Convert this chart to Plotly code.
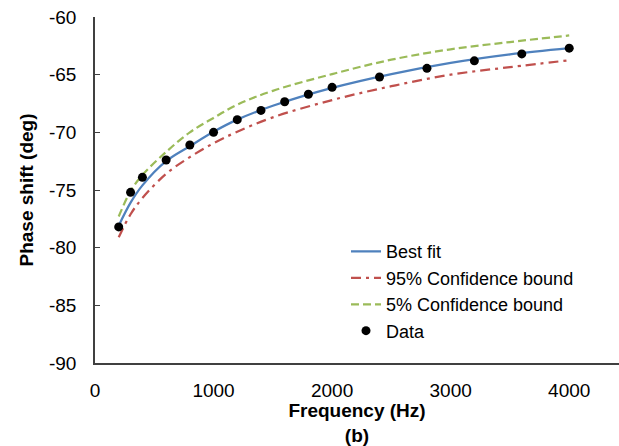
import plotly.graph_objects as go

# Measured data points
data_freq = [200, 300, 400, 600, 800, 1000, 1200, 1400, 1600, 1800, 2000, 2400, 2800, 3200, 3600, 4000]
data_phase = [-78.2, -75.2, -73.9, -72.4, -71.1, -70.0, -68.9, -68.1, -67.35, -66.7, -66.1, -65.2, -64.45, -63.8, -63.2, -62.7]

# Curves
curve_freq = [200, 300, 400, 600, 800, 1000, 1200, 1500, 2000, 2500, 3000, 3500, 4000]
best_fit = [-78.1, -76.1, -74.6, -72.5, -71.2, -69.95, -68.9, -67.7, -66.15, -64.95, -63.98, -63.24, -62.7]
bound_95 = [-79.1, -77.1, -75.7, -73.6, -72.15, -70.95, -69.95, -68.7, -67.2, -66.0, -65.0, -64.35, -63.75]
bound_5 = [-77.3, -75.1, -73.7, -71.7, -70.0, -68.75, -67.6, -66.4, -64.95, -63.7, -62.8, -62.17, -61.6]

x_ticks = [0, 1000, 2000, 3000, 4000]
y_ticks = [-90, -85, -80, -75, -70, -65, -60]

FONT = "Liberation Sans, Arial, sans-serif"
AX = "#404040"
FS = 19

fig = go.Figure()
fig.add_trace(go.Scatter(x=curve_freq, y=best_fit, mode="lines", name="Best fit",
                         line=dict(color="#4F81BD", width=2.25, shape="spline")))
fig.add_trace(go.Scatter(x=curve_freq, y=bound_95, mode="lines", name="95% Confidence bound",
                         line=dict(color="#C0504D", width=2.25, dash="10px,5px,3px,5px", shape="spline")))
fig.add_trace(go.Scatter(x=curve_freq, y=bound_5, mode="lines", name="5% Confidence bound",
                         line=dict(color="#9BBB59", width=2.25, dash="8px,4px", shape="spline")))
fig.add_trace(go.Scatter(x=data_freq, y=data_phase, mode="markers", name="Data",
                         marker=dict(color="black", size=9)))

xr = [0, 4420]
fig.update_layout(
    width=619, height=446,
    margin=dict(l=95, r=0, t=17, b=83),
    paper_bgcolor="white", plot_bgcolor="white",
    font=dict(family=FONT, size=FS, color="black"),
    showlegend=True,
    legend=dict(x=0.479, y=0.375, xanchor="left", yanchor="top",
                bgcolor="rgba(0,0,0,0)", font=dict(size=18), tracegroupgap=0,
                itemwidth=30),
    xaxis=dict(range=xr, tickvals=x_ticks, ticktext=[str(v) for v in x_ticks],
               showgrid=False, zeroline=False, showline=True, linecolor=AX, linewidth=1.5,
               ticks="", ticklabelstandoff=9, tickfont=dict(size=FS),
               title=dict(text="<b>Frequency (Hz)</b><br><b>(b)</b>", standoff=2,
                          font=dict(size=FS))),
    xaxis2=dict(range=xr, overlaying="x", side="top", tickvals=x_ticks,
                showticklabels=False, showgrid=False, zeroline=False,
                showline=True, linecolor=AX, linewidth=1.5,
                ticks="inside", ticklen=5, tickcolor=AX, tickwidth=1),
    yaxis=dict(range=[-90, -60], tickvals=y_ticks, ticktext=[str(v) for v in y_ticks],
               showgrid=False, zeroline=False, showline=True, linecolor=AX, linewidth=1.5,
               ticks="inside", ticklen=5, tickcolor=AX, tickwidth=1, ticklabelstandoff=13,
               tickfont=dict(size=FS),
               title=dict(text="<b>Phase shift (deg)</b>", standoff=10, font=dict(size=FS))),
)

fig.write_html("out.html")
